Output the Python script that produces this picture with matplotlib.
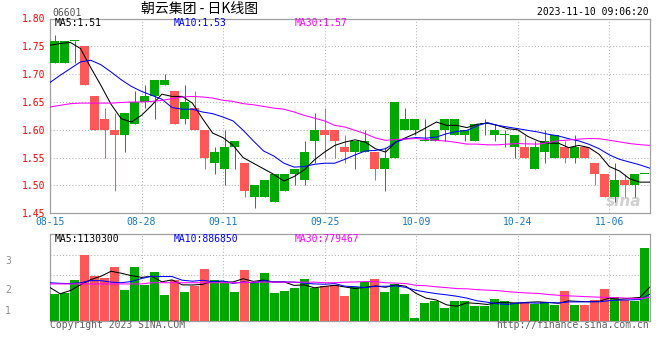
import matplotlib
matplotlib.use("Agg")
import matplotlib.pyplot as plt
import numpy as np
import pandas as pd

# 06601 daily K line, 60 trading days 08-15 .. 11-10
opens = [1.72, 1.72, 1.76, 1.75, 1.66, 1.62, 1.60, 1.59, 1.61, 1.65,
         1.66, 1.68, 1.67, 1.62, 1.64, 1.60, 1.54, 1.53, 1.57, 1.54,
         1.48, 1.48, 1.47, 1.49, 1.52, 1.51, 1.58, 1.60, 1.60, 1.57,
         1.56, 1.56, 1.56, 1.53, 1.55, 1.60, 1.60, 1.58, 1.58, 1.60,
         1.59, 1.59, 1.58, 1.61, 1.59, 1.59, 1.57, 1.57, 1.53, 1.56,
         1.55, 1.57, 1.55, 1.57, 1.54, 1.52, 1.48, 1.51, 1.50, 1.52]
highs = [1.77, 1.76, 1.76, 1.75, 1.66, 1.64, 1.63, 1.63, 1.67, 1.68,
         1.69, 1.70, 1.67, 1.68, 1.67, 1.60, 1.57, 1.60, 1.58, 1.54,
         1.50, 1.51, 1.52, 1.52, 1.53, 1.58, 1.63, 1.64, 1.60, 1.59,
         1.58, 1.60, 1.56, 1.57, 1.65, 1.64, 1.62, 1.62, 1.60, 1.62,
         1.62, 1.60, 1.61, 1.62, 1.61, 1.60, 1.59, 1.59, 1.58, 1.60,
         1.59, 1.58, 1.59, 1.57, 1.54, 1.52, 1.54, 1.52, 1.52, 1.52]
lows = [1.72, 1.72, 1.72, 1.68, 1.60, 1.55, 1.49, 1.56, 1.61, 1.64,
        1.62, 1.68, 1.61, 1.61, 1.60, 1.53, 1.52, 1.50, 1.53, 1.48,
        1.46, 1.48, 1.47, 1.49, 1.50, 1.50, 1.54, 1.55, 1.55, 1.54,
        1.53, 1.56, 1.51, 1.49, 1.55, 1.60, 1.59, 1.58, 1.58, 1.58,
        1.59, 1.58, 1.58, 1.59, 1.58, 1.57, 1.55, 1.55, 1.53, 1.54,
        1.55, 1.54, 1.54, 1.55, 1.50, 1.48, 1.47, 1.48, 1.48, 1.52]
closes = [1.76, 1.76, 1.76, 1.68, 1.60, 1.60, 1.59, 1.63, 1.65, 1.66,
          1.69, 1.69, 1.61, 1.65, 1.60, 1.55, 1.56, 1.57, 1.58, 1.49,
          1.50, 1.51, 1.52, 1.52, 1.53, 1.56, 1.60, 1.59, 1.58, 1.56,
          1.58, 1.58, 1.53, 1.55, 1.65, 1.62, 1.62, 1.58, 1.60, 1.62,
          1.62, 1.60, 1.61, 1.61, 1.60, 1.59, 1.59, 1.55, 1.57, 1.58,
          1.59, 1.55, 1.57, 1.55, 1.52, 1.48, 1.51, 1.50, 1.52, 1.52]
# volume, millions of shares
volumes = [0.89, 0.94, 1.36, 2.19, 1.49, 1.44, 1.79, 1.03, 1.79, 1.19,
           1.63, 0.86, 1.36, 0.96, 1.16, 1.74, 1.36, 1.26, 0.96, 1.70,
           1.29, 1.59, 0.93, 0.99, 1.10, 1.39, 1.09, 1.16, 1.18, 0.82,
           1.13, 1.29, 1.39, 0.96, 1.23, 0.89, 0.09, 0.59, 0.66, 0.42,
           0.66, 0.66, 0.49, 0.49, 0.72, 0.66, 0.59, 0.62, 0.56, 0.62,
           0.53, 0.99, 0.52, 0.52, 0.69, 1.06, 0.79, 0.69, 0.66, 2.44]

# moving averages before enough history exists
ma5_head = [1.752, 1.755, 1.757, 1.746]
ma10_head = [1.685, 1.698, 1.710, 1.722, 1.725, 1.717, 1.704, 1.690, 1.678]
ma30_head = [1.641, 1.644, 1.647, 1.648, 1.648, 1.648, 1.648, 1.649, 1.650, 1.650,
             1.651, 1.653, 1.656, 1.659, 1.660, 1.659, 1.657, 1.653, 1.651, 1.647,
             1.645, 1.642, 1.639, 1.637, 1.632, 1.626, 1.621, 1.616, 1.608]
vma5_head = [1.11, 0.90, 1.01, 1.20]
vma10_head = [1.27, 1.25, 1.24, 1.27, 1.34, 1.34, 1.29, 1.27, 1.31]
vma30_head = [1.23] * 10 + [1.27] * 10 + [1.29] * 7 + [1.27] * 2

tick_idx = [0, 9, 17, 27, 36, 46, 55]
tick_labels = ['08-15', '08-28', '09-11', '09-25', '10-09', '10-24', '11-06']

vol_legend = ['MA5:1130300', 'MA10:886850', 'MA30:779467']
price_legend = ['MA5:1.51', 'MA10:1.53', 'MA30:1.57']

UP = '#00a800'
DOWN = '#ff5757'
MA_COLORS = ['#000000', '#0000ff', '#ff00ff']
MONO = 'DejaVu Sans Mono'
W, H = 660, 360


def ma(values, n, head):
    out = pd.Series(values).rolling(n).mean().to_numpy()
    out[:len(head)] = head
    return out


def fx(x):
    return x / W


def fy(y):
    return 1 - y / H


o = np.array(opens)
c = np.array(closes)
n = len(c)
colors = [UP if cc >= oo else DOWN for oo, cc in zip(o, c)]
xc = np.arange(n) + 0.45          # candle centres
xl = np.arange(n) * n / (n - 1)   # line / grid positions

fig = plt.figure(figsize=(W / 100, H / 100), dpi=100)
ax = fig.add_axes([fx(50), fy(213.3), fx(600), (213.3 - 18.5) / H])
axv = fig.add_axes([fx(50), fy(320.7), fx(600), (320.7 - 234) / H])

grid_kw = dict(color='#b4b4b4', lw=0.75, linestyle=(0, (1, 2)), zorder=0)

# price panel
ax.vlines(xc, lows, highs, colors=colors, lw=0.75, zorder=2)
ax.bar(xc, np.maximum(np.abs(c - o), 0.0018), bottom=np.minimum(o, c),
       width=0.9, color=colors, linewidth=0, zorder=3)
for vals, head, col in zip([5, 10, 30], [ma5_head, ma10_head, ma30_head], MA_COLORS):
    ax.plot(xl, ma(closes, vals, head), color=col, lw=0.75, zorder=4)

ax.set_xlim(0, n)
ax.set_ylim(1.45, 1.80)
ax.set_yticks(np.arange(1.45, 1.801, 0.05))
ax.set_yticklabels([f'{v:.2f}' for v in np.arange(1.45, 1.801, 0.05)],
                   color='#ff0000', fontsize=7, family=MONO)
ax.set_xticks([xl[i] for i in tick_idx])
ax.set_xticklabels(tick_labels, color='#1478c8', fontsize=7, family=MONO)
ax.tick_params(length=0, pad=3)
for y in np.arange(1.50, 1.76, 0.05):
    ax.axhline(y, **grid_kw)
for i in tick_idx[1:]:
    ax.axvline(xl[i], **grid_kw)
ax.text(0.985, 0.06, 'sina', transform=ax.transAxes, ha='right', va='center',
        fontsize=11, color='#d0d0d0', style='italic', weight='bold', zorder=1)

# volume panel
axv.bar(xc, volumes, width=0.9, color=colors, linewidth=0, zorder=3)
for vals, head, col in zip([5, 10, 30], [vma5_head, vma10_head, vma30_head], MA_COLORS):
    axv.plot(xl, ma(volumes, vals, head), color=col, lw=0.75, zorder=4)
axv.set_xlim(0, n)
axv.set_ylim(0, 2.90)
axv.set_xticks([])
axv.set_yticks([])
for y in [1.52, 2.20]:
    axv.axhline(y, **grid_kw)
for i in tick_idx[1:]:
    axv.axvline(xl[i], **grid_kw)

for a in (ax, axv):
    for s in a.spines.values():
        s.set_color('#a0a0a0')
        s.set_linewidth(0.9)

# texts
fig.text(fx(52), fy(12.5), '06601', fontsize=7, family=MONO, color='#555555', va='center')
fig.text(fx(200), fy(9), '朝云集团 - 日K线图', fontsize=10, ha='center', va='center',
         family=['Noto Sans CJK SC', 'DejaVu Sans'])
fig.text(fx(649), fy(12), '2023-11-10 09:06:20', fontsize=7, family=MONO, ha='right', va='center')
for xpos, txt, col in zip([55, 174, 295], price_legend, MA_COLORS):
    fig.text(fx(xpos), fy(23.5), txt, fontsize=7, family=MONO, color=col, va='center')
for xpos, txt, col in zip([55, 174, 295], vol_legend, MA_COLORS):
    fig.text(fx(xpos), fy(238.7), txt, fontsize=7, family=MONO, color=col, va='center')
for ypos, txt in zip([260.5, 290, 311], ['3', '2', '1']):
    fig.text(fx(5), fy(ypos), txt, fontsize=7, family=MONO, color='#909090', va='center')
fig.text(fx(50), fy(324.5), 'Copyright 2023 SINA.COM', fontsize=7, family=MONO,
         color='#606060', va='center')
fig.text(fx(649), fy(324.5), 'http://finance.sina.com.cn', fontsize=7, family=MONO,
         color='#606060', va='center', ha='right')

fig.savefig('out.png', dpi=100)
